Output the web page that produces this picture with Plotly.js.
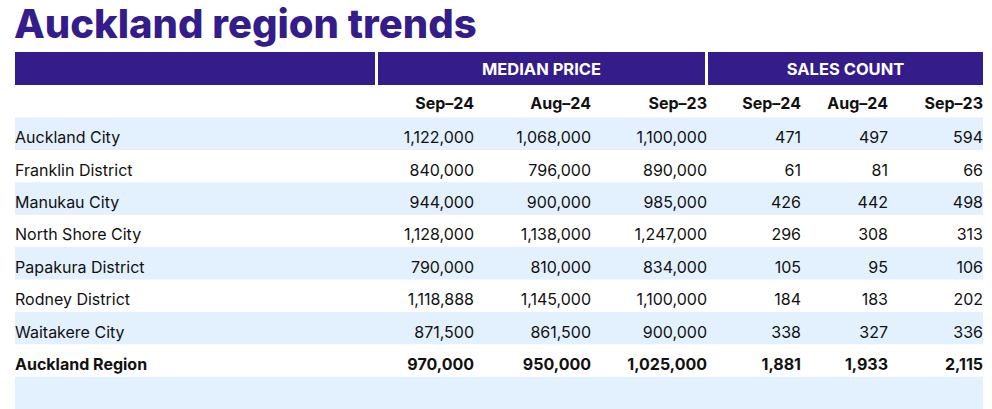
<!DOCTYPE html>
<html>
<head>
<meta charset="utf-8">
<script src="https://cdn.plot.ly/plotly-3.0.1.min.js"></script>
<style>
html,body{margin:0;padding:0;background:#fff;}
#chart{width:992px;height:409px;}
</style>
</head>
<body>
<div id="chart"></div>
<script>
// ---- data ----
const areas = ["Auckland City","Franklin District","Manukau City","North Shore City","Papakura District","Rodney District","Waitakere City","Auckland Region"];
const priceSep24 = [1122000, 840000, 944000, 1128000, 790000, 1118888, 871500, 970000];
const priceAug24 = [1068000, 796000, 900000, 1138000, 810000, 1145000, 861500, 950000];
const priceSep23 = [1100000, 890000, 985000, 1247000, 834000, 1100000, 900000, 1025000];
const salesSep24 = [471, 61, 426, 296, 105, 184, 338, 1881];
const salesAug24 = [497, 81, 442, 308, 95, 183, 327, 1933];
const salesSep23 = [594, 66, 498, 313, 106, 202, 336, 2115];
const periods = ["Sep–24","Aug–24","Sep–23"];
const groupHeaders = ["MEDIAN PRICE","SALES COUNT"];
const titleText = "Auckland region trends";

// ---- layout constants ----
const PURPLE = "#341c8a";
const BLUE = "#e3f0fd";
const TEXT = "#111111";
const FONT = "Inter, 'Noto Sans', sans-serif";
const tableLeft = 15, tableRight = 983;
const headTop = 52, headBottom = 85;
const subTop = 86, rowTop = 117.5, rowH = 32.4;
const nameX = 15;
const priceCols = [474, 591, 707];
const salesCols = [801, 888, 983];
const groupSpans = [[378, 705], [708, 983]];
const firstSpan = [15, 375];
const rowTextShift = 5.5, subTextShift = 3.5, headTextShift = 2;

const nRows = areas.length;
const rowCenter = i => rowTop + (i + 0.5) * rowH + rowTextShift;
const fmt = v => v.toLocaleString("en-US");
const totalIdx = nRows - 1;
const wrap = (s, i) => i === totalIdx ? "<b>" + s + "</b>" : s;

const shapes = [];
// header bands
[firstSpan].concat(groupSpans).forEach(s => shapes.push({
  type: "rect", xref: "x", yref: "y", x0: s[0], x1: s[1], y0: headTop, y1: headBottom,
  fillcolor: PURPLE, line: {width: 0}, layer: "below"
}));
// striped rows (including trailing blank row)
for (let i = 0; i <= nRows; i++) {
  if (i % 2 === 0) {
    shapes.push({
      type: "rect", xref: "x", yref: "y", x0: tableLeft, x1: tableRight,
      y0: rowTop + i * rowH, y1: rowTop + (i + 1) * rowH,
      fillcolor: BLUE, line: {width: 0}, layer: "below"
    });
  }
}

const rowsY = areas.map((_, i) => rowCenter(i));
const traces = [];
function textTrace(x, texts, pos) {
  traces.push({
    type: "scatter", mode: "text", x: texts.map(() => x), y: rowsY.slice(0, texts.length),
    text: texts, textposition: pos, hoverinfo: "skip", showlegend: false,
    textfont: {family: FONT, size: 16, color: TEXT}, cliponaxis: false
  });
}
textTrace(nameX, areas.map((a, i) => wrap(a, i)), "middle right");
const cols = [
  [priceCols[0], priceSep24], [priceCols[1], priceAug24], [priceCols[2], priceSep23],
  [salesCols[0], salesSep24], [salesCols[1], salesAug24], [salesCols[2], salesSep23]
];
cols.forEach(c => textTrace(c[0], c[1].map((v, i) => wrap(fmt(v), i)), "middle left"));

// sub header periods
const subX = priceCols.concat(salesCols);
traces.push({
  type: "scatter", mode: "text", x: subX, y: subX.map(() => (subTop + rowTop) / 2 + subTextShift),
  text: periods.concat(periods).map(p => "<b>" + p + "</b>"), textposition: "middle left",
  hoverinfo: "skip", showlegend: false, cliponaxis: false,
  textfont: {family: FONT, size: 16, color: TEXT}
});
// group headers
traces.push({
  type: "scatter", mode: "text",
  x: groupSpans.map(s => (s[0] + s[1]) / 2), y: groupSpans.map(() => (headTop + headBottom) / 2 + headTextShift),
  text: groupHeaders.map(g => "<b>" + g + "</b>"), textposition: "middle center",
  hoverinfo: "skip", showlegend: false, cliponaxis: false,
  textfont: {family: FONT, size: 16.5, color: "#ffffff"}
});

const layout = {
  width: 992, height: 409,
  margin: {l: 0, r: 0, t: 0, b: 0},
  paper_bgcolor: "#ffffff", plot_bgcolor: "#ffffff",
  title: {
    text: titleText, x: 14 / 992, xanchor: "left", xref: "paper",
    y: 1 - 24 / 409, yanchor: "middle", yref: "container",
    font: {family: FONT, size: 40, weight: 800, color: PURPLE}
  },
  xaxis: {range: [0, 992], visible: false, fixedrange: true},
  yaxis: {range: [409, 0], visible: false, fixedrange: true},
  shapes: shapes,
  showlegend: false
};
Plotly.newPlot("chart", traces, layout, {staticPlot: true, displayModeBar: false});
</script>
</body>
</html>
